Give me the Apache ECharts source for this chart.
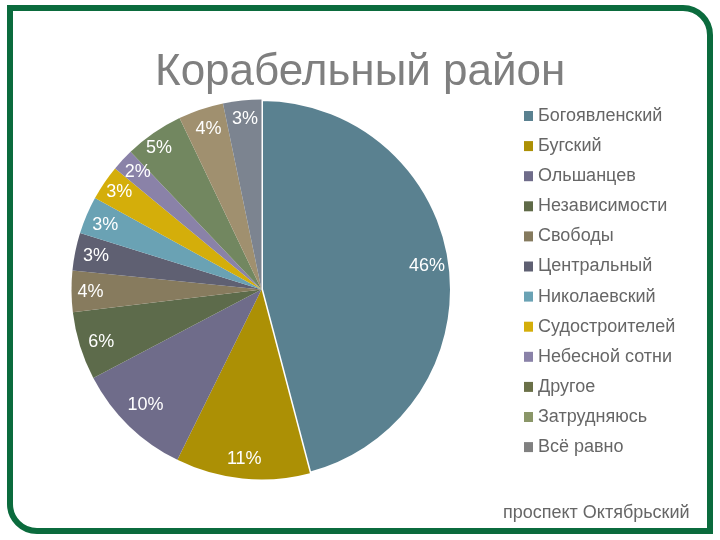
<!DOCTYPE html>
<html>
<head>
<meta charset="utf-8">
<title>Корабельный район</title>
<style>
    html, body { margin: 0; padding: 0; background: #fff; }
    #main { position: absolute; left: 0; top: 0; width: 720px; height: 540px; }
    /* зелёная рамка слайда */
    #frame {
        position: absolute; left: 7px; top: 5px; width: 694px; height: 517px;
        border: 6px solid #0b6b3d; border-radius: 0 30px 0 30px;
    }
</style>
</head>
<body>
<div id="frame"></div>
<div id="main"></div>
<script src="https://cdn.jsdelivr.net/npm/echarts@6/dist/echarts.min.js"></script>
<script>
    var categories = ['Богоявленский', 'Бугский', 'Ольшанцев', 'Независимости', 'Свободы', 'Центральный',
        'Николаевский', 'Судостроителей', 'Небесной сотни', 'Другое', 'Затрудняюсь', 'Всё равно'];
    var values = [45.9, 11.4, 10, 5.8, 3.5, 3.2, 3.2, 3.0, 1.9, 5.0, 3.85, 3.25];
    var titleText = 'Корабельный район';
    var footerText = 'проспект Октябрьский';

    var sliceColors = ['#5a8190', '#ac9005', '#6f6c8a', '#5d6b4b', '#877b5e', '#5f6072',
        '#6aa2b4', '#d4ae0a', '#8a82a8', '#728760', '#a0906f', '#7c8490'];
    var legendColors = ['#5a8190', '#ac9005', '#6f6c8a', '#5f6a48', '#857a5e', '#5f6072',
        '#6aa2b4', '#d4ae0a', '#8a82a8', '#6a7048', '#8a9668', '#808080'];
    // подписи в оригинале стоят не точно по радиусу
    var labelOffsets = [[-5, -1], [0, -2], [4, -8], [4, 1], [1, 1], [3, 1],
        [2, 3], [0, -1], [2, 0], [-5, 0], [2, 3], [1, 1]];

    var font = '"Liberation Sans", Arial, sans-serif';
    var chart = echarts.init(document.getElementById('main'), null, { renderer: 'canvas' });

    var pieData = [];
    var labelData = [];
    var legendData = [];
    for (var i = 0; i < categories.length; i++) {
        pieData.push({ name: categories[i], value: values[i], itemStyle: { color: sliceColors[i] } });
        labelData.push({ name: categories[i], value: values[i], label: { offset: labelOffsets[i] } });
        legendData.push({ name: categories[i], itemStyle: { color: legendColors[i] } });
    }
    // белая линия вокруг самого большого сектора
    pieData[0].itemStyle.borderColor = '#ffffff';
    pieData[0].itemStyle.borderWidth = 3;

    chart.setOption({
        animation: false,
        title: [
            { text: titleText, left: 150, top: 46, textStyle: { color: '#7f7f7f', fontFamily: font, fontSize: 44, fontWeight: 'normal' } },
            { text: footerText, left: 498, top: 499, textStyle: { color: '#666666', fontFamily: font, fontSize: 18, fontWeight: 'normal' } }
        ],
        legend: {
            orient: 'vertical',
            left: 519,
            top: 101,
            itemWidth: 9,
            itemHeight: 10,
            itemGap: 10.1,
            itemStyle: { borderWidth: 0 },
            icon: 'rect',
            data: legendData,
            textStyle: { color: '#666666', fontFamily: font, fontSize: 18, lineHeight: 20 }
        },
        series: [
            {
                type: 'pie',
                center: [261.5, 289.5],
                radius: [0, 190],
                startAngle: 90,
                clockwise: true,
                label: { show: false },
                labelLine: { show: false },
                data: pieData
            },
            {
                // прозрачное кольцо только для подписей у внешнего края
                type: 'pie',
                center: [261.5, 289.5],
                radius: [148, 190],
                startAngle: 90,
                clockwise: true,
                silent: true,
                itemStyle: { color: 'transparent' },
                label: {
                    show: true,
                    position: 'inside',
                    formatter: function (p) { return Math.round(p.value) + '%'; },
                    color: '#ffffff',
                    fontFamily: font,
                    fontSize: 18
                },
                labelLine: { show: false },
                data: labelData
            }
        ]
    });
</script>
</body>
</html>
